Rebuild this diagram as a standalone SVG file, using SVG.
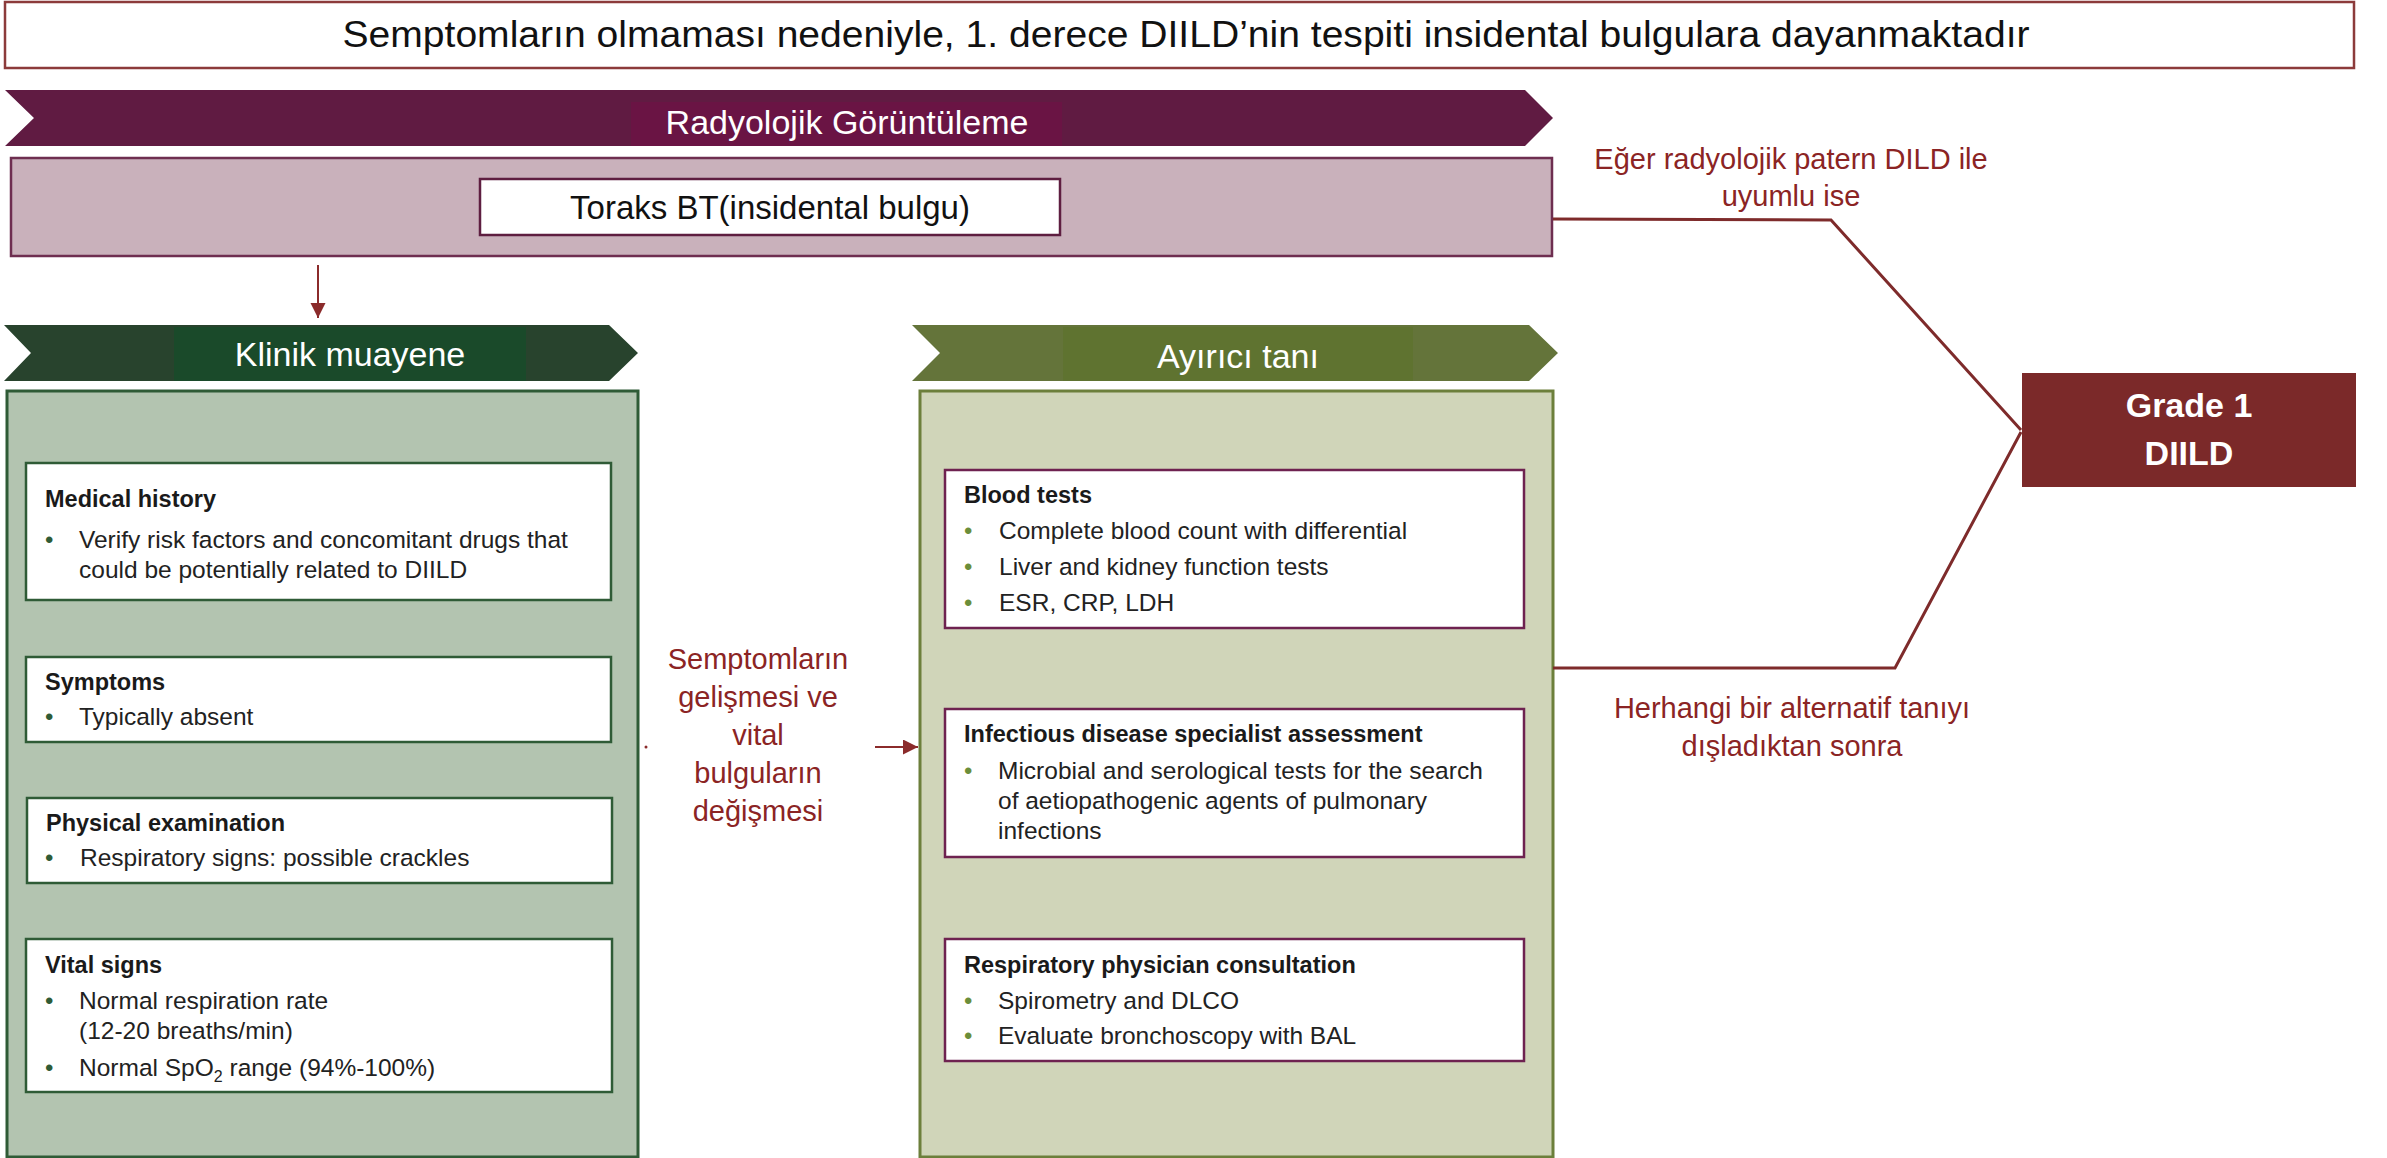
<svg xmlns="http://www.w3.org/2000/svg" width="2387" height="1158" viewBox="0 0 2387 1158">
  <style>
    text { font-family: "Liberation Sans", Arial, sans-serif; }
    .title { font-size: 37px; fill: #111; }
    .band-label { font-size: 34px; fill: #fff; text-anchor: middle; }
    .head { font-size: 23.5px; font-weight: bold; fill: #1a1a1a; }
    .body { font-size: 24.5px; fill: #222; }
    .bul-g { font-size: 24px; fill: #2f5b36; }
    .bul-o { font-size: 24px; fill: #6b8e3a; }
    .cond { font-size: 29px; fill: #8b2424; text-anchor: middle; }
    .box-g { fill: #fff; stroke: #2f5b36; stroke-width: 2.5; }
    .box-m { fill: #fff; stroke: #6e2250; stroke-width: 2.5; }
    .link { fill: none; stroke: #7e2b2b; stroke-width: 3; }
    .arrow { fill: none; stroke: #8b2b2b; stroke-width: 2; }
  </style>
  <defs>
    <marker id="head" markerUnits="userSpaceOnUse" markerWidth="16" markerHeight="16" refX="15" refY="7.5" orient="auto">
      <path d="M0,0 L15,7.5 L0,15 z" fill="#8b2b2b"/>
    </marker>
  </defs>

  <rect width="2387" height="1158" fill="#fff"/>

  <!-- heading banner -->
  <g id="heading">
    <rect x="5" y="2" width="2349" height="66" fill="#fff" stroke="#8c3b3b" stroke-width="2.5"/>
    <text class="title" x="1186" y="47" text-anchor="middle" textLength="1687" lengthAdjust="spacingAndGlyphs">Semptomların olmaması nedeniyle, 1. derece DIILD’nin tespiti insidental bulgulara dayanmaktadır</text>
  </g>

  <!-- imaging stage -->
  <g id="radiology">
    <polygon points="5,90 1525,90 1553,118 1525,146 5,146 34,118" fill="#601b42"/>
    <rect x="631" y="102" width="431" height="44" fill="#6a1444"/>
    <text class="band-label" x="847" y="134">Radyolojik Görüntüleme</text>
    <rect x="11" y="158" width="1541" height="98" fill="#c9b1bb" stroke="#6e2e50" stroke-width="2.5"/>
  </g>
  <g id="ct-scan">
    <rect x="480" y="179" width="580" height="56" fill="#fff" stroke="#5e1e40" stroke-width="2.5"/>
    <text x="770" y="219" font-size="33" fill="#111" text-anchor="middle">Toraks BT(insidental bulgu)</text>
  </g>

  <!-- clinical examination stage -->
  <g id="clinical">
    <polygon points="4,325 609,325 638,353 609,381 4,381 31,353" fill="#28432d"/>
    <rect x="174" y="327" width="352" height="54" fill="#1a4a2a"/>
    <text class="band-label" x="350" y="366">Klinik muayene</text>
    <rect x="7" y="391" width="631" height="766" fill="#b3c4b0" stroke="#2f5b36" stroke-width="3"/>
  </g>
  <g id="medical-history">
    <rect class="box-g" x="26" y="463" width="585" height="137"/>
    <text class="head" x="45" y="507">Medical history</text>
    <text class="bul-g" x="45" y="548">•</text>
    <text class="body" x="79" y="548">Verify risk factors and concomitant drugs that</text>
    <text class="body" x="79" y="578">could be potentially related to DIILD</text>
  </g>
  <g id="symptoms">
    <rect class="box-g" x="26" y="657" width="585" height="85"/>
    <text class="head" x="45" y="690">Symptoms</text>
    <text class="bul-g" x="45" y="725">•</text>
    <text class="body" x="79" y="725">Typically absent</text>
  </g>
  <g id="physical-exam">
    <rect class="box-g" x="27" y="798" width="585" height="85"/>
    <text class="head" x="46" y="831">Physical examination</text>
    <text class="bul-g" x="45" y="866">•</text>
    <text class="body" x="80" y="866">Respiratory signs: possible crackles</text>
  </g>
  <g id="vital-signs">
    <rect class="box-g" x="26" y="939" width="586" height="153"/>
    <text class="head" x="45" y="973">Vital signs</text>
    <text class="bul-g" x="45" y="1009">•</text>
    <text class="body" x="79" y="1009">Normal respiration rate</text>
    <text class="body" x="79" y="1039">(12-20 breaths/min)</text>
    <text class="bul-g" x="45" y="1076">•</text>
    <text class="body" x="79" y="1076">Normal SpO<tspan font-size="16" dy="6">2</tspan><tspan dy="-6"> range (94%-100%)</tspan></text>
  </g>

  <!-- differential diagnosis stage -->
  <g id="differential">
    <polygon points="912,325 1529,325 1558,353 1529,381 912,381 940,353" fill="#64743a"/>
    <rect x="1063" y="327" width="350" height="54" fill="#5f7330"/>
    <text class="band-label" x="1238" y="368">Ayırıcı tanı</text>
    <rect x="920" y="391" width="633" height="766" fill="#d0d5b9" stroke="#6c7f3b" stroke-width="3"/>
  </g>
  <g id="blood-tests">
    <rect class="box-m" x="945" y="470" width="579" height="158"/>
    <text class="head" x="964" y="503">Blood tests</text>
    <text class="bul-o" x="964" y="539">•</text>
    <text class="body" x="999" y="539">Complete blood count with differential</text>
    <text class="bul-o" x="964" y="575">•</text>
    <text class="body" x="999" y="575">Liver and kidney function tests</text>
    <text class="bul-o" x="964" y="611">•</text>
    <text class="body" x="999" y="611">ESR, CRP, LDH</text>
  </g>
  <g id="infectious-assessment">
    <rect class="box-m" x="945" y="709" width="579" height="148"/>
    <text class="head" x="964" y="742">Infectious disease specialist assessment</text>
    <text class="bul-o" x="964" y="779">•</text>
    <text class="body" x="998" y="779">Microbial and serological tests for the search</text>
    <text class="body" x="998" y="809">of aetiopathogenic agents of pulmonary</text>
    <text class="body" x="998" y="839">infections</text>
  </g>
  <g id="respiratory-consult">
    <rect class="box-m" x="945" y="939" width="579" height="122"/>
    <text class="head" x="964" y="973">Respiratory physician consultation</text>
    <text class="bul-o" x="964" y="1009">•</text>
    <text class="body" x="998" y="1009">Spirometry and DLCO</text>
    <text class="bul-o" x="964" y="1044">•</text>
    <text class="body" x="998" y="1044">Evaluate bronchoscopy with BAL</text>
  </g>

  <!-- outcome -->
  <g id="grade-1">
    <rect x="2022" y="373" width="334" height="114" fill="#7b2929"/>
    <text x="2189" y="417" font-size="34" font-weight="bold" fill="#fff" text-anchor="middle">Grade 1</text>
    <text x="2189" y="465" font-size="34" font-weight="bold" fill="#fff" text-anchor="middle">DIILD</text>
  </g>

  <!-- connectors and their conditions -->
  <g id="connectors">
    <line class="arrow" x1="318" y1="265" x2="318" y2="318" marker-end="url(#head)"/>
    <circle cx="646" cy="747" r="1.5" fill="#8b2b2b"/>
    <line class="arrow" x1="875" y1="747" x2="918" y2="747" marker-end="url(#head)"/>
    <polyline class="link" points="1553,219 1831,220 2021,430"/>
    <polyline class="link" points="1553,668 1895,668 2021,432"/>
    <text class="cond" x="758" y="669">Semptomların</text>
    <text class="cond" x="758" y="707">gelişmesi ve</text>
    <text class="cond" x="758" y="745">vital</text>
    <text class="cond" x="758" y="783">bulguların</text>
    <text class="cond" x="758" y="821">değişmesi</text>
    <text class="cond" x="1791" y="169">Eğer radyolojik patern DILD ile</text>
    <text class="cond" x="1791" y="206">uyumlu ise</text>
    <text class="cond" x="1792" y="718">Herhangi bir alternatif tanıyı</text>
    <text class="cond" x="1792" y="756">dışladıktan sonra</text>
  </g>
</svg>
